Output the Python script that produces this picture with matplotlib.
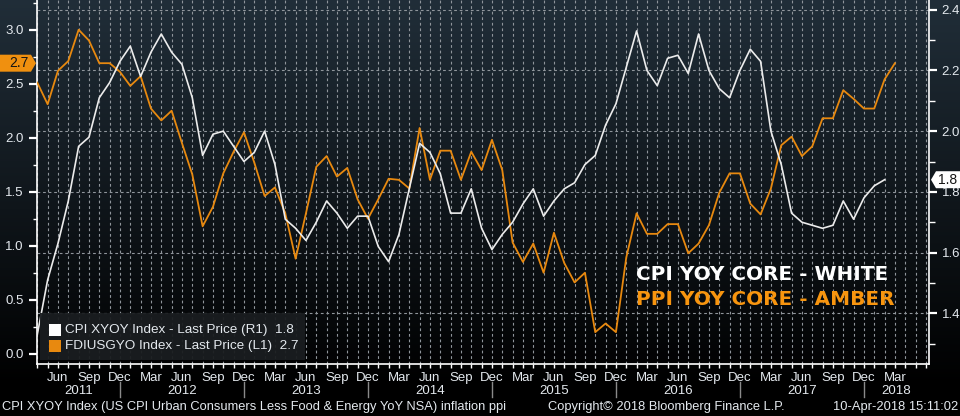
import numpy as np
import matplotlib
matplotlib.use('Agg')
import matplotlib.pyplot as plt
from matplotlib import transforms
from matplotlib.patches import Polygon, Rectangle

# ---------------- data (monthly, starting Apr 2011) ----------------
start_year, start_month = 2011, 4
cpi_core = [1.33, 1.51, 1.63, 1.77, 1.95, 1.98, 2.11, 2.16, 2.23, 2.28, 2.18, 2.26,
            2.32, 2.26, 2.22, 2.11, 1.92, 1.99, 2.00, 1.95, 1.90, 1.93, 2.00, 1.89,
            1.71, 1.68, 1.64, 1.70, 1.77, 1.73, 1.68, 1.72, 1.72, 1.62, 1.57, 1.66,
            1.81, 1.96, 1.93, 1.86, 1.73, 1.73, 1.81, 1.68, 1.61, 1.66, 1.70, 1.76,
            1.81, 1.72, 1.77, 1.81, 1.83, 1.89, 1.92, 2.02, 2.09, 2.21, 2.33, 2.20,
            2.15, 2.24, 2.25, 2.19, 2.32, 2.20, 2.14, 2.11, 2.20, 2.27, 2.23, 2.00,
            1.89, 1.73, 1.70, 1.69, 1.68, 1.69, 1.77, 1.71, 1.78, 1.82, 1.84]
ppi_core = [2.51, 2.31, 2.62, 2.71, 3.00, 2.90, 2.69, 2.69, 2.61, 2.48, 2.57, 2.27,
            2.16, 2.25, 1.95, 1.66, 1.18, 1.36, 1.67, 1.87, 2.05, 1.77, 1.46, 1.54,
            1.30, 0.88, 1.30, 1.73, 1.83, 1.64, 1.72, 1.43, 1.25, 1.43, 1.62, 1.61,
            1.53, 2.09, 1.61, 1.88, 1.88, 1.61, 1.87, 1.70, 1.98, 1.70, 1.03, 0.85,
            1.02, 0.75, 1.12, 0.84, 0.66, 0.75, 0.20, 0.28, 0.20, 0.89, 1.30, 1.11,
            1.11, 1.20, 1.20, 0.93, 1.02, 1.19, 1.49, 1.67, 1.67, 1.39, 1.29, 1.53,
            1.93, 2.01, 1.83, 1.92, 2.18, 2.18, 2.44, 2.36, 2.27, 2.27, 2.54, 2.69]
month_names = ['Jan', 'Feb', 'Mar', 'Apr', 'May', 'Jun',
               'Jul', 'Aug', 'Sep', 'Oct', 'Nov', 'Dec']
left_ticks = [0.0, 0.5, 1.0, 1.5, 2.0, 2.5, 3.0]
right_ticks = [1.4, 1.6, 1.8, 2.0, 2.2, 2.4]
series_labels = ['CPI XYOY Index - Last Price (R1)', 'FDIUSGYO Index - Last Price (L1)']
note_lines = ['CPI YOY CORE - WHITE', 'PPI YOY CORE - AMBER']
footer_left = 'CPI XYOY Index (US CPI Urban Consumers Less Food & Energy YoY NSA) inflation ppi'
footer_mid = 'Copyright\u00a9 2018 Bloomberg Finance L.P.'
footer_right = '10-Apr-2018 15:11:02'

# ---------------- style ----------------
plt.rcParams['font.family'] = ['Liberation Sans', 'DejaVu Sans']
W, H = 960, 416
TXT = '#e4e9ee'
AMBER = '#e8890f'
WHITE = '#ececec'
GRID = '#8f959b'

fig = plt.figure(figsize=(W / 100, H / 100), dpi=100)

# background gradient
bg = fig.add_axes([0, 0, 1, 1], zorder=-10)
rows = np.arange(H)
t = np.clip(rows / 385.0, 0, 1)
top = np.array([0.128, 0.180, 0.222])
bot = np.array([0.0, 0.0, 0.0])
cols = top[None, :] * (1 - t[:, None]) + bot[None, :] * t[:, None]
img = np.repeat(cols[:, None, :], 4, axis=1)
bg.imshow(img, aspect='auto', extent=[0, 1, 0, 1], interpolation='bilinear')
bg.set_axis_off()

def fx(px):
    return px / W

def fy(py):
    return 1 - py / H

L, R, B, T = 37.3, 929, 364, 0
ax = fig.add_axes([fx(L), fy(B), fx(R) - fx(L), fy(T) - fy(B)])
ax.set_facecolor('none')
ax2 = ax.twinx()
ax2.set_facecolor('none')

n = len(ppi_core)
x_ppi = np.arange(n)
x_cpi = np.arange(len(cpi_core))
xmax = 86.3
ax.set_xlim(0, xmax)
ylimL = (-0.095, 3.275)
ylimR = (1.233, 2.432)
ax.set_ylim(*ylimL)
ax2.set_ylim(*ylimR)

# horizontal grid at right-axis majors (drawn on left axis, below lines)
for v in right_ticks:
    vl = ylimL[0] + (v - ylimR[0]) / (ylimR[1] - ylimR[0]) * (ylimL[1] - ylimL[0])
    ax.axhline(vl, color=GRID, lw=0.8, dashes=(2.5, 2.5), zorder=0.5)

# month ticks / vertical grid
all_months = np.arange(0, int(xmax) + 1)
quarter_idx = [i for i in all_months if (start_month - 1 + i) % 12 in (2, 5, 8, 11) and i < n]
quarter_lab = [month_names[(start_month - 1 + i) % 12] for i in quarter_idx]
ax.set_xticks(quarter_idx)
ax.set_xticklabels(quarter_lab)
ax.set_xticks(all_months, minor=True)
ax.grid(which='both', axis='x', color=GRID, lw=0.8, dashes=(2.5, 2.5), zorder=0.5)
ax.set_axisbelow(True)

ax.plot(x_ppi, ppi_core, color=AMBER, lw=1.3, zorder=3)
ax2.plot(x_cpi, cpi_core, color=WHITE, lw=1.2, zorder=3)

# left axis ticks
ax.set_yticks(left_ticks)
ax.set_yticklabels([f'{v:.1f}' for v in left_ticks])
ax.set_yticks(np.arange(0.25, 3.3, 0.5), minor=True)
ax.tick_params(axis='y', which='major', colors='white', labelcolor=TXT, length=6, width=1.6,
               pad=4, labelsize=9.5)
ax.tick_params(axis='y', which='minor', colors='white', length=3, width=1)
ax.tick_params(axis='x', which='both', colors='white', labelcolor=TXT, length=3, width=1,
               pad=3, labelsize=9.5)

# right axis ticks
ax2.set_yticks(right_ticks)
ax2.set_yticklabels([f'{v:.1f}' for v in right_ticks])
ax2.set_yticks(np.arange(1.3, 2.35, 0.2), minor=True)
ax2.tick_params(axis='y', which='major', colors='white', labelcolor=TXT, length=6, width=1.6,
                pad=3, labelsize=9.5)
ax2.tick_params(axis='y', which='minor', colors='white', length=4, width=1)

for a in (ax, ax2):
    for s in a.spines.values():
        s.set_visible(False)
ax.spines['left'].set_visible(True)
ax.spines['bottom'].set_visible(True)
ax2.spines['right'].set_visible(True)
for s in (ax.spines['left'], ax.spines['bottom'], ax2.spines['right']):
    s.set_color('white')
    s.set_linewidth(1.2)

# year labels and separators
bt = transforms.blended_transform_factory(ax.transData, fig.transFigure)
dec_idx = [i for i in all_months if (start_month - 1 + i) % 12 == 11]
bounds = [0] + dec_idx + [xmax]
year = start_year
for a0, a1 in zip(bounds[:-1], bounds[1:]):
    ax.text((a0 + a1) / 2, fy(391), str(year), transform=bt, ha='center', va='center',
            color=TXT, fontsize=9.5)
    year += 1
for d in dec_idx:
    ax.plot([d, d], [fy(382), fy(397)], transform=bt, color='#8a8a8a', lw=1, clip_on=False)

# last value tags
def ypix(a, v):
    return a.transData.transform((0, v))[1]

yl = ypix(ax, ppi_core[-1])
tag = Polygon([(0, yl - 8.5), (31, yl - 8.5), (36, yl), (31, yl + 8.5), (0, yl + 8.5)],
              closed=True, transform=None, facecolor='#f0900f', edgecolor='none', zorder=10)
fig.patches.append(tag)
fig.text(fx(19), yl / H, f'{ppi_core[-1]:.1f}', ha='center', va='center', color='#151515',
         fontsize=10, zorder=12)
yr = ypix(ax2, cpi_core[-1])
tag2 = Polygon([(931, yr), (936, yr - 8.5), (960, yr - 8.5), (960, yr + 8.5), (936, yr + 8.5)],
               closed=True, transform=None, facecolor='white', edgecolor='none', zorder=10)
fig.patches.append(tag2)
fig.text(fx(948), yr / H, f'{cpi_core[-1]:.1f}', ha='center', va='center', color='#151515',
         fontsize=10, zorder=12)

# legend
fig.patches.append(Rectangle((fx(40), fy(360)), fx(305) - fx(40), fy(313) - fy(360),
                             transform=fig.transFigure, facecolor='#1a1d20', edgecolor='none',
                             alpha=0.95, zorder=5))
legend_rows = [('white', series_labels[0], cpi_core[-1], 330),
               (AMBER, series_labels[1], ppi_core[-1], 346)]
for col, lab, val, yy in legend_rows:
    fig.patches.append(Rectangle((fx(49), fy(yy + 6)), fx(12), 12 / H, transform=fig.transFigure,
                                 facecolor=col, edgecolor='none', zorder=6))
    fig.text(fx(65), fy(yy), f'{lab}  {val:.1f}', ha='left', va='center', color=TXT,
             fontsize=9.7, zorder=7)

# annotation
fig.text(fx(636), fy(280), note_lines[0], ha='left', va='baseline', color='white',
         fontsize=14.4, fontweight='bold', family='DejaVu Sans')
fig.text(fx(636), fy(305), note_lines[1], ha='left', va='baseline', color='#f7950f',
         fontsize=14.4, fontweight='bold', family='DejaVu Sans')

# footer
fig.text(fx(2), fy(407), footer_left, ha='left', va='center', color=TXT, fontsize=9.3)
fig.text(fx(548), fy(407), footer_mid, ha='left', va='center', color=TXT, fontsize=9.3)
fig.text(fx(958), fy(407), footer_right, ha='right', va='center', color=TXT, fontsize=9.3)

fig.savefig('out.png', dpi=100, facecolor='black')
